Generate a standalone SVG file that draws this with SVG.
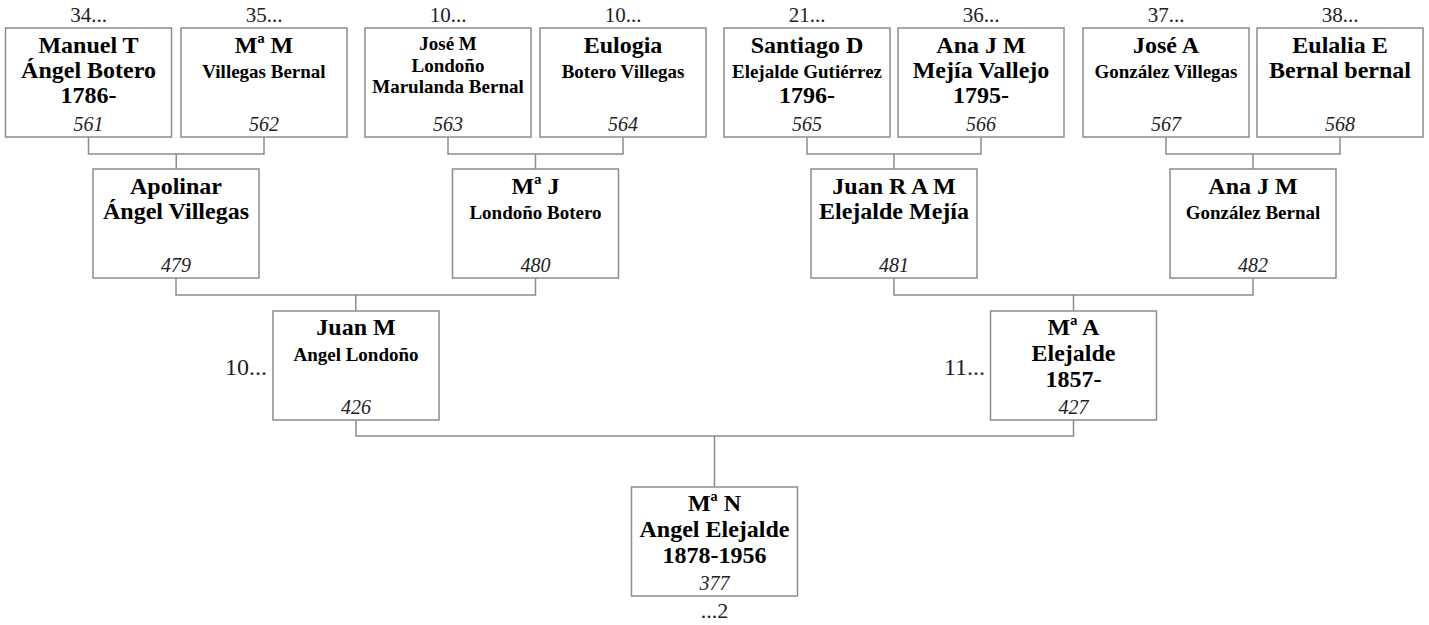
<svg xmlns="http://www.w3.org/2000/svg" width="1429" height="625" viewBox="0 0 1429 625" font-family="Liberation Serif, DejaVu Serif, serif">
<style>
  .box { fill: #ffffff; stroke: #8c8c8c; stroke-width: 1.5; }
  .con { fill: none; stroke: #8c8c8c; stroke-width: 1.5; }
  text { text-anchor: middle; fill: #000; }
  .b { font-weight: bold; font-size: 24px; }
  .s { font-weight: bold; font-size: 19px; }
  .n { font-style: italic; font-size: 20px; fill: #222; }
  .lbl { font-size: 21px; fill: #222; }
  .side { font-size: 24px; fill: #222; text-anchor: end; }
  .bot { font-size: 22px; fill: #222; }
</style>
<rect width="1429" height="625" fill="#ffffff"/>
<g id="connectors">
  <path class="con" d="M88.5,137 V154 H264 V137 M176.25,154 V169"/>
  <path class="con" d="M448,137 V154 H623 V137 M535.5,154 V169"/>
  <path class="con" d="M807,137 V154 H981 V137 M894,154 V169"/>
  <path class="con" d="M1166,137 V154 H1340 V137 M1253,154 V169"/>
  <path class="con" d="M176,278 V295 H535.5 V278 M355.75,295 V311"/>
  <path class="con" d="M894,278 V295 H1253 V278 M1073.5,295 V311"/>
  <path class="con" d="M356,420 V436 H1073.5 V420 M714.5,436 V487"/>
</g>
<g id="labels">
  <text class="lbl" x="88.5" y="22">34...</text>
  <text class="lbl" x="264" y="22">35...</text>
  <text class="lbl" x="448" y="22">10...</text>
  <text class="lbl" x="623" y="22">10...</text>
  <text class="lbl" x="807" y="22">21...</text>
  <text class="lbl" x="981" y="22">36...</text>
  <text class="lbl" x="1166" y="22">37...</text>
  <text class="lbl" x="1340" y="22">38...</text>
  <text class="side" x="267" y="375">10...</text>
  <text class="side" x="985" y="375">11...</text>
  <text class="bot" x="714.5" y="618">...2</text>
</g>
<g id="n561">
  <rect class="box" x="5.5" y="28" width="166" height="109"/>
  <text class="b" x="88.5" y="53">Manuel T</text>
  <text class="b" x="88.5" y="78">Ángel Botero</text>
  <text class="b" x="88.5" y="103">1786-</text>
  <text class="n" x="88.5" y="131">561</text>
</g>
<g id="n562">
  <rect class="box" x="181" y="28" width="166" height="109"/>
  <text class="b" x="264" y="53">Mª M</text>
  <text class="s" x="264" y="78">Villegas Bernal</text>
  <text class="n" x="264" y="131">562</text>
</g>
<g id="n563">
  <rect class="box" x="365" y="28" width="166" height="109"/>
  <text class="s" x="448" y="50">José M</text>
  <text class="s" x="448" y="72">Londoño</text>
  <text class="s" x="448" y="93">Marulanda Bernal</text>
  <text class="n" x="448" y="131">563</text>
</g>
<g id="n564">
  <rect class="box" x="540" y="28" width="166" height="109"/>
  <text class="b" x="623" y="53">Eulogia</text>
  <text class="s" x="623" y="78">Botero Villegas</text>
  <text class="n" x="623" y="131">564</text>
</g>
<g id="n565">
  <rect class="box" x="724" y="28" width="166" height="109"/>
  <text class="b" x="807" y="53">Santiago D</text>
  <text class="s" x="807" y="78">Elejalde Gutiérrez</text>
  <text class="b" x="807" y="103">1796-</text>
  <text class="n" x="807" y="131">565</text>
</g>
<g id="n566">
  <rect class="box" x="898" y="28" width="166" height="109"/>
  <text class="b" x="981" y="53">Ana J M</text>
  <text class="b" x="981" y="78">Mejía Vallejo</text>
  <text class="b" x="981" y="103">1795-</text>
  <text class="n" x="981" y="131">566</text>
</g>
<g id="n567">
  <rect class="box" x="1083" y="28" width="166" height="109"/>
  <text class="b" x="1166" y="53">José A</text>
  <text class="s" x="1166" y="78">González Villegas</text>
  <text class="n" x="1166" y="131">567</text>
</g>
<g id="n568">
  <rect class="box" x="1257" y="28" width="166" height="109"/>
  <text class="b" x="1340" y="53">Eulalia E</text>
  <text class="b" x="1340" y="78">Bernal bernal</text>
  <text class="n" x="1340" y="131">568</text>
</g>
<g id="n479">
  <rect class="box" x="93" y="169" width="166" height="109"/>
  <text class="b" x="176" y="194">Apolinar</text>
  <text class="b" x="176" y="219">Ángel Villegas</text>
  <text class="n" x="176" y="272">479</text>
</g>
<g id="n480">
  <rect class="box" x="452.5" y="169" width="166" height="109"/>
  <text class="b" x="535.5" y="194">Mª J</text>
  <text class="s" x="535.5" y="219">Londoño Botero</text>
  <text class="n" x="535.5" y="272">480</text>
</g>
<g id="n481">
  <rect class="box" x="811" y="169" width="166" height="109"/>
  <text class="b" x="894" y="194">Juan R A M</text>
  <text class="b" x="894" y="219">Elejalde Mejía</text>
  <text class="n" x="894" y="272">481</text>
</g>
<g id="n482">
  <rect class="box" x="1170" y="169" width="166" height="109"/>
  <text class="b" x="1253" y="194">Ana J M</text>
  <text class="s" x="1253" y="219">González Bernal</text>
  <text class="n" x="1253" y="272">482</text>
</g>
<g id="n426">
  <rect class="box" x="273" y="311" width="166" height="109"/>
  <text class="b" x="356" y="335">Juan M</text>
  <text class="s" x="356" y="361">Angel Londoño</text>
  <text class="n" x="356" y="414">426</text>
</g>
<g id="n427">
  <rect class="box" x="990.5" y="311" width="166" height="109"/>
  <text class="b" x="1073.5" y="335">Mª A</text>
  <text class="b" x="1073.5" y="361">Elejalde</text>
  <text class="b" x="1073.5" y="387">1857-</text>
  <text class="n" x="1073.5" y="414">427</text>
</g>
<g id="n377">
  <rect class="box" x="631.5" y="487" width="166" height="109"/>
  <text class="b" x="714.5" y="511">Mª N</text>
  <text class="b" x="714.5" y="537">Angel Elejalde</text>
  <text class="b" x="714.5" y="563">1878-1956</text>
  <text class="n" x="714.5" y="590">377</text>
</g>
</svg>
